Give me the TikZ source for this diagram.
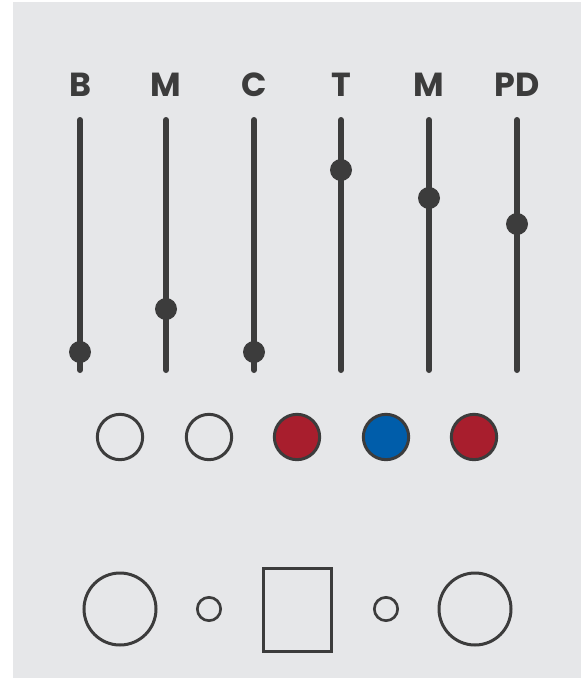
\documentclass[tikz,border=0pt]{standalone}
\usepackage{fontspec}
\setsansfont{Poppins}
\usepackage{tikz}
\usetikzlibrary{positioning}
\definecolor{panelgray}{HTML}{E6E7E9}
\definecolor{darkgray}{HTML}{3C3C3C}
\definecolor{jackred}{HTML}{A81E2D}
\definecolor{jackblue}{HTML}{005DAA}

\begin{document}
\begin{tikzpicture}[x=0.75pt,y=-0.75pt,
  faderlabel/.style={font=\sffamily\bfseries\fontsize{25}{25}\selectfont,
    text=darkgray, anchor=base, inner sep=0pt},
  rail/.style={draw=darkgray, line width=4.5pt, line cap=round},
  knob/.style={circle, fill=darkgray, minimum size=16.5pt, inner sep=0pt},
  led/.style={circle, draw=darkgray, line width=2.25pt, minimum size=34pt, inner sep=0pt},
  jack/.style={circle, draw=darkgray, line width=2.25pt, minimum size=54pt, inner sep=0pt},
  hole/.style={circle, draw=darkgray, line width=2pt, minimum size=17.5pt, inner sep=0pt},
  switchbox/.style={draw=darkgray, line width=2.25pt, minimum width=51pt, minimum height=62pt, inner sep=0pt}
]
\useasboundingbox (0,0) rectangle (582,679);
\fill[panelgray] (13,2) rectangle (581,678);

% faders
\foreach \x/\lab/\k [count=\i] in {80/B/352, 166/M/309, 254/C/352, 341/T/170, 429/M/198, 517/PD/224}{
  \node[faderlabel] (lab\i) at (\x,96) {\lab};
  \coordinate (top\i) at (\x,120);
  \coordinate (bot\i) at (\x,370);
  \draw[rail] (top\i) -- (bot\i);
  \node[knob] (knob\i) at (\x,\k) {};
}

% lamps
\node[led] (led1) at (120,437) {};
\node[led] (led2) at (209,437) {};
\node[led, fill=jackred] (led3) at (297,437) {};
\node[led, fill=jackblue] (led4) at (386,437) {};
\node[led, fill=jackred] (led5) at (474,437) {};

% bottom row
\node[jack] (jackL) at (120,609) {};
\node[hole] (holeL) at (209,609) {};
\node[switchbox] (sw) at (297.5,610) {};
\node[hole] (holeR) at (386,609) {};
\node[jack] (jackR) at (475,609) {};
\end{tikzpicture}
\end{document}
